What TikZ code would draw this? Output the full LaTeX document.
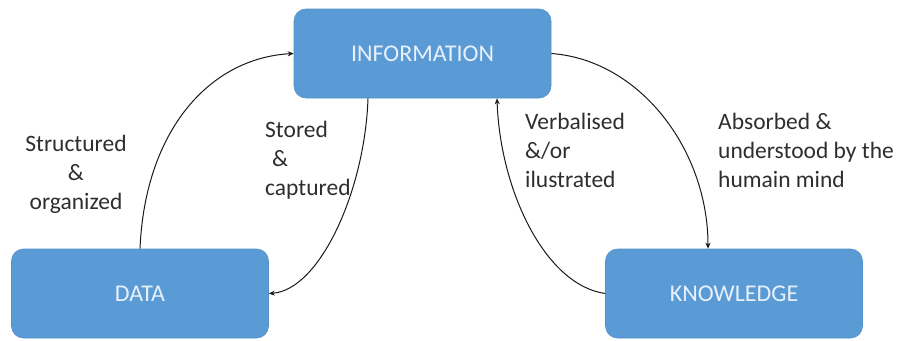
\documentclass[tikz,border=0pt]{standalone}
\usepackage{fontspec}
\setmainfont{Carlito}
\usetikzlibrary{arrows.meta}
\definecolor{boxblue}{HTML}{5B9BD5}
\definecolor{boxedge}{HTML}{5290CA}
\definecolor{boxtext}{HTML}{E8F1FB}
\definecolor{labeltext}{HTML}{2E2E2E}
\begin{document}
\begin{tikzpicture}[x=1pt,y=-1pt,
  stage/.style={rectangle, rounded corners=12pt, fill=boxblue, draw=boxedge,
    line width=0.6pt, minimum width=257pt, minimum height=89pt,
    text=boxtext, font=\fontsize{24}{28}\selectfont, inner sep=0},
  flow/.style={draw=black!90, line width=1pt, -{Stealth[length=6pt,width=5pt]}},
  note/.style={inner sep=0, text=labeltext, font=\fontsize{23.5}{29}\selectfont}
]
\useasboundingbox (0,0) rectangle (901,340);

% the three stages
\node[stage] (info) at (422.5,53.5) {INFORMATION};
\node[stage] (data) at (140,293.5) {DATA};
\node[stage] (know) at (734,293.5) {KNOWLEDGE};

% transitions between the stages
\draw[flow] (data.north) .. controls (145,130) and (210,58) .. (info.west);
\draw[flow] ([xshift=-54.5pt]info.south) .. controls (365,190) and (320,290) .. (data.east);
\draw[flow] (info.east) .. controls (640,60) and (708,150) .. ([xshift=-26pt]know.north);
\draw[flow] (know.west) .. controls (545,285) and (500,190) .. ([xshift=74.5pt]info.south);

% transition labels
\node[note, align=center, anchor=north] (lstruct) at (76,135) {Structured\\\&\\organized};
\node[note, align=left, anchor=north west] (lstore) at (265,121) {Stored\\\hspace{7pt}\&\\captured};
\node[note, align=left, anchor=north west] (lverb) at (525,113) {Verbalised\\\&/or\\ilustrated};
\node[note, align=left, anchor=north west] (labs) at (718,113) {Absorbed \&\\understood by the\\humain mind};
\end{tikzpicture}
\end{document}
